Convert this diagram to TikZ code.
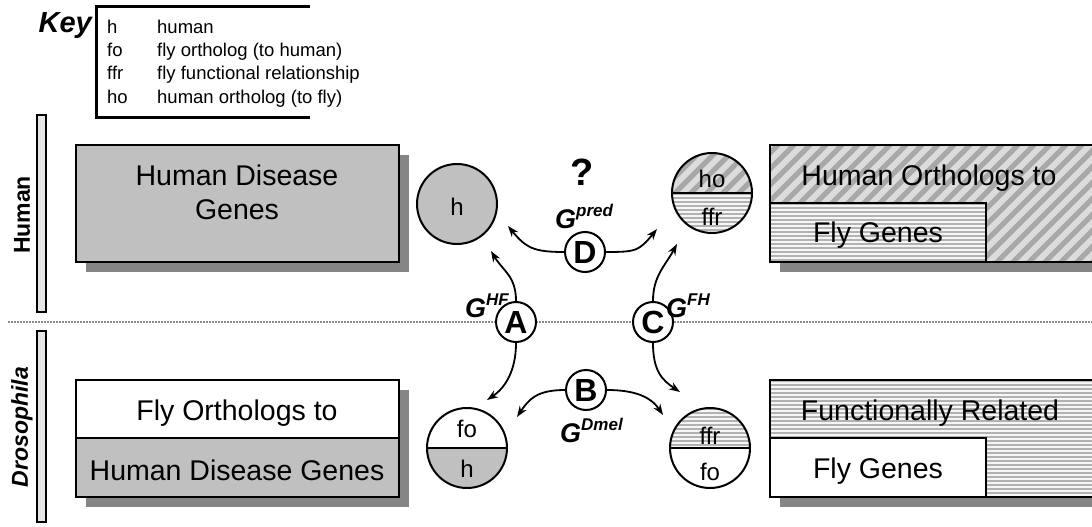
\documentclass[tikz,border=0pt]{standalone}
\usepackage{fontspec}
\setmainfont{Liberation Sans}
\usetikzlibrary{arrows.meta}

\newcommand{\setfs}[1]{\fontsize{#1}{#1}\selectfont}

\definecolor{boxgray}{HTML}{C0C0C0}
\definecolor{shadowgray}{HTML}{858585}
\definecolor{bargray}{HTML}{E6E6E6}
\definecolor{stripebg}{HTML}{DCDCDC}
\definecolor{stripefg}{HTML}{A8A8A8}
\definecolor{hlinebg}{HTML}{F6F6F6}
\definecolor{hlinefg}{HTML}{B2B2B2}
\definecolor{sepgray}{HTML}{8C8C8C}

% diagonal stripes over a rectangle (x1,y1,x2,y2)
\newcommand{\diagfill}[4]{%
  \begin{scope}
    \clip (#1,#2) rectangle (#3,#4);
    \fill[stripebg] (#1,#2) rectangle (#3,#4);
    \foreach \k in {0,...,30}
      \draw[stripefg, line width=5pt] ({#1-130+\k*16},{#4+5}) -- ++(140,-140);
  \end{scope}}

% thin horizontal lines over a rectangle (x1,y1,x2,y2)
\newcommand{\hlinefill}[4]{%
  \begin{scope}
    \clip (#1,#2) rectangle (#3,#4);
    \fill[hlinebg] (#1,#2) rectangle (#3,#4);
    \foreach \yy in {0,4,...,200}
      \draw[hlinefg, line width=1.5pt] (#1,{#2+1+\yy}) -- (#3,{#2+1+\yy});
  \end{scope}}

% G with a superscript
\newcommand{\glabel}[1]{{\setfs{27}\bfseries\itshape G\raisebox{12pt}{\setfs{17}#1}}}

\begin{document}
\begin{tikzpicture}[x=1pt,y=-1pt,
  outline/.style={draw=black, line width=2.2pt},
  shadowbox/.style={fill=shadowgray},
  letter/.style={circle, draw=black, line width=2pt, fill=white,
    minimum size=40pt, inner sep=0pt, font=\setfs{32}\bfseries},
  setring/.style={circle, draw=black, line width=2pt, minimum size=80pt, inner sep=0pt},
  conn/.style={line width=1.8pt, -{Stealth[length=11pt,width=8pt]}},
  boxtext/.style={font=\setfs{28.5}, anchor=base, inner sep=0pt},
  circtext/.style={font=\setfs{24}, anchor=base, inner sep=0pt},
  keyabbr/.style={font=\setfs{18.5}, anchor=base west, inner sep=0pt},
  sidebar/.style={draw=black, line width=2pt, fill=bargray},
  sidelabel/.style={rotate=90, font=\setfs{23}\bfseries, inner sep=0pt}
]
\useasboundingbox (0,0) rectangle (1092,527);
\clip (0,0) rectangle (1092,527);
\fill[white] (0,0) rectangle (1092,527);

% ---------- key ----------
\node[anchor=base east, font=\setfs{29}\bfseries\itshape, inner sep=0pt] (keytitle) at (92,33) {Key};
\draw[line width=3pt] (310,7) -- (96,7) -- (96,117) -- (310,117);
\node[keyabbr] (k1a) at (107,34) {h};
\node[keyabbr] (k1b) at (157,34) {human};
\node[keyabbr] (k2a) at (107,57) {fo};
\node[keyabbr] (k2b) at (157,57) {fly ortholog (to human)};
\node[keyabbr] (k3a) at (107,80) {ffr};
\node[keyabbr] (k3b) at (157,80) {fly functional relationship};
\node[keyabbr] (k4a) at (107,103) {ho};
\node[keyabbr] (k4b) at (157,103) {human ortholog (to fly)};

% ---------- species bars and separator ----------
\draw[sidebar] (37,115) rectangle (46,312);
\draw[sidebar] (37,331) rectangle (46,522);
\node[sidelabel] (humanlbl) at (22,215) {Human};
\node[sidelabel, font=\setfs{23}\bfseries\itshape] (flylbl) at (22,427) {Drosophila};
\draw[sepgray, line width=1.2pt, dash pattern=on 1.5pt off 1.5pt] (8,322) -- (1092,322);

% ---------- human disease genes ----------
\fill[shadowbox] (86,155) rectangle (409,272);
\draw[outline, fill=boxgray] (76,145) rectangle (399,262);
\node[boxtext] (hdg1) at (237,185) {Human Disease};
\node[boxtext] (hdg2) at (237,219) {Genes};

% ---------- fly orthologs to human disease genes ----------
\fill[shadowbox] (86,390) rectangle (409,507);
\fill[white] (76,380) rectangle (399,438);
\fill[boxgray] (76,438) rectangle (399,497);
\draw[outline] (76,380) rectangle (399,497);
\draw[outline] (76,438) -- (399,438);
\node[boxtext] (fo1) at (237,420) {Fly Orthologs to};
\node[boxtext] (fo2) at (237,480) {Human Disease Genes};

% ---------- human orthologs to fly genes ----------
\fill[shadowbox] (780,155) rectangle (1100,272);
\diagfill{770}{145}{1100}{262}
\hlinefill{770}{203}{986}{262}
\draw[outline] (770,145) rectangle (1100,262);
\draw[outline] (770,203) rectangle (986,262);
\node[boxtext] (ho1) at (929,185) {Human Orthologs to};
\node[boxtext] (ho2) at (878,242) {Fly Genes};

% ---------- functionally related fly genes ----------
\fill[shadowbox] (780,390) rectangle (1100,507);
\hlinefill{770}{380}{1100}{497}
\fill[white] (770,438) rectangle (986,497);
\draw[outline] (770,380) rectangle (1100,497);
\draw[outline] (770,438) rectangle (986,497);
\node[boxtext] (fr1) at (930,420) {Functionally Related};
\node[boxtext] (fr2) at (878,478) {Fly Genes};

% ---------- gene set circles ----------
% h
\fill[boxgray] (457,204) circle[radius=40];
\node[setring] (hset) at (457,204) {};
\node[circtext] (htxt) at (457,215) {h};

% fo / h
\begin{scope}
  \clip (467,448) circle[radius=40];
  \fill[white] (427,408) rectangle (507,448);
  \fill[boxgray] (427,448) rectangle (507,488);
\end{scope}
\node[setring] (foh) at (467,448) {};
\draw[line width=2pt] (foh.west) -- (foh.east);
\node[circtext] (fohtop) at (467,437) {fo};
\node[circtext] (fohbot) at (467,477) {h};

% ho / ffr
\begin{scope}
  \clip (712,193) circle[radius=40];
  \diagfill{672}{153}{752}{193}
  \hlinefill{672}{193}{752}{233}
\end{scope}
\node[setring] (hoffr) at (712,193) {};
\draw[line width=2pt] (hoffr.west) -- (hoffr.east);
\node[circtext] (hofftop) at (712,187) {ho};
\node[circtext] (hoffbot) at (712,225) {ffr};

% ffr / fo
\begin{scope}
  \clip (710,448) circle[radius=40];
  \hlinefill{670}{408}{750}{448}
  \fill[white] (670,448) rectangle (750,488);
\end{scope}
\node[setring] (ffrfo) at (710,448) {};
\draw[line width=2pt] (ffrfo.west) -- (ffrfo.east);
\node[circtext] (ffrtop) at (710,444) {ffr};
\node[circtext] (ffrbot) at (710,480) {fo};

% ---------- operations ----------
\node[letter] (A) at (516,322) {A};
\node[letter] (B) at (586,390) {B};
\node[letter] (C) at (653,322) {C};
\node[letter] (D) at (585,252) {D};

\node[anchor=base, font=\setfs{38}\bfseries, inner sep=0pt] (qmark) at (582,185) {?};
\node[anchor=base west, inner sep=0pt] (gpred) at (555,228) {\glabel{pred}};
\node[anchor=base east, inner sep=0pt] (ghf) at (509,317) {\glabel{HF}};
\node[anchor=base west, inner sep=0pt] (gfh) at (666,317) {\glabel{FH}};
\node[anchor=base west, inner sep=0pt] (gdmel) at (560,442) {\glabel{Dmel}};

% arrow tips
\coordinate (tipDl) at (508,226);
\coordinate (tipDr) at (657,229);
\coordinate (tipAu) at (491,251);
\coordinate (tipCu) at (677,244);
\coordinate (tipAd) at (487,400);
\coordinate (tipCd) at (680,392);
\coordinate (tipBl) at (517,417);
\coordinate (tipBr) at (663,415);

\draw[conn] (D.west)  .. controls +(-30,0) and +(18,22)   .. (tipDl);
\draw[conn] (D.east)  .. controls +(30,0)  and +(-18,22)  .. (tipDr);
\draw[conn] (A.north) .. controls +(0,-25) and +(12,20)   .. (tipAu);
\draw[conn] (C.north) .. controls +(0,-25) and +(-12,22)  .. (tipCu);
\draw[conn] (A.south) .. controls +(0,28)  and +(18,-12)  .. (tipAd);
\draw[conn] (C.south) .. controls +(0,28)  and +(-18,-12) .. (tipCd);
\draw[conn] (B.west)  .. controls +(-28,0) and +(12,-18)  .. (tipBl);
\draw[conn] (B.east)  .. controls +(28,0)  and +(-12,-18) .. (tipBr);
\end{tikzpicture}
\end{document}
